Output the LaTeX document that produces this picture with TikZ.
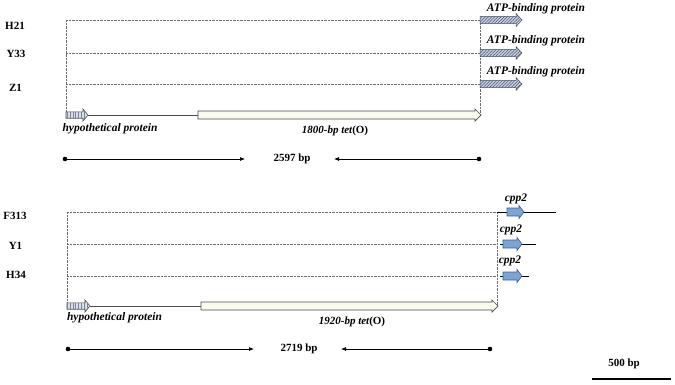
\documentclass[tikz,border=0pt]{standalone}
\usepackage{fontspec}
\setmainfont{Liberation Serif}
\usetikzlibrary{patterns,patterns.meta,arrows.meta}
\definecolor{atpfill}{HTML}{C9D1E2}
\definecolor{atphatch}{HTML}{44506A}
\definecolor{cppfill}{HTML}{7BA5D6}
\definecolor{cppline}{HTML}{3F5E8C}
\definecolor{hypfill}{HTML}{D9DEE9}
\definecolor{hypstripe}{HTML}{7A8496}
\definecolor{tetfill}{HTML}{FAFAF0}
\definecolor{dotgrey}{HTML}{6E6E6E}
\newcommand{\genearrow}[7]{\draw[#1] (#2,#5-#6) -- (#3,#5-#6) -- (#3,#5-#7) -- (#4,#5) -- (#3,#5+#7) -- (#3,#5+#6) -- (#2,#5+#6) -- cycle;}
\tikzset{
  strain/.style={font=\fontsize{11}{12}\selectfont\bfseries, anchor=center, inner sep=0pt},
  genelabel/.style={font=\fontsize{11.5}{13}\selectfont\bfseries\itshape, anchor=center, inner sep=0pt},
  plainlabel/.style={font=\fontsize{11}{12}\selectfont\bfseries, anchor=center, inner sep=0pt},
  dotline/.style={dotgrey, dash pattern=on 0.6pt off 0.8pt, line width=0.6pt},
  linkline/.style={draw=black!70, line width=0.8pt},
  flankline/.style={draw=black, line width=0.9pt},
  atparrow/.style={draw=atphatch, line width=0.5pt, fill=atpfill, postaction={pattern={Lines[angle=45,distance=2.2pt,line width=0.5pt]}, pattern color=atphatch}},
  hyparrow/.style={draw=black!70, line width=0.6pt, fill=hypfill, postaction={pattern={Lines[angle=90,distance=2.8pt,line width=0.5pt]}, pattern color=hypstripe}},
  tetarrow/.style={draw=black!70, line width=0.7pt, fill=tetfill},
  cpparrow/.style={draw=cppline, line width=0.6pt, fill=cppfill},
  distline/.style={draw=black, line width=0.7pt},
  endtip/.style={-{Latex[length=5pt,width=4pt]}},
  enddot/.style={fill=black},
}
\begin{document}
\begin{tikzpicture}[x=1pt,y=-1pt]
\useasboundingbox (0,0) rectangle (675,384);
% ================= TOP PANEL =================
\node[strain] (h21) at (15,26) {H21};
\node[strain] (y33) at (16,54) {Y33};
\node[strain] (z1) at (15.5,88) {Z1};
\coordinate (tL1) at (66,20);
\coordinate (tR1) at (480,20);
\coordinate (tL2) at (66,53);
\coordinate (tR2) at (480,53);
\coordinate (tL3) at (66,84);
\coordinate (tR3) at (480,84);
\coordinate (tLb) at (66,112);
\coordinate (tRb) at (480,115);
\draw[dotline] (tL1) -- (tR1);
\draw[dotline] (tL2) -- (tR2);
\draw[dotline] (tL3) -- (tR3);
\draw[dotline] (tL1) -- (tLb);
\draw[dotline] (tR1) -- (tRb);
% ATP-binding protein arrows
\genearrow{atparrow}{480}{516}{522}{20}{3.6}{6.5}
\genearrow{atparrow}{480}{516}{522}{53}{3.6}{6.5}
\genearrow{atparrow}{480}{516}{522}{84}{3.6}{6.5}
\node[genelabel] (atp1) at (536,9) {ATP-binding protein};
\node[genelabel] (atp2) at (536,41) {ATP-binding protein};
\node[genelabel] (atp3) at (536,72) {ATP-binding protein};
% backbone
\coordinate (thypend) at (88,115);
\coordinate (ttetstart) at (198,115);
\draw[linkline] (thypend) -- (ttetstart);
\genearrow{hyparrow}{66}{83}{88}{115}{3.2}{6}
\genearrow{tetarrow}{198}{475}{481}{115}{4}{6}
\node[genelabel] (thyp) at (110,129) {hypothetical protein};
\node[plainlabel] (ttet) at (335,131) {\itshape 1800-bp tet\upshape(O)};
% distance
\node[plainlabel] (tdist) at (292,159) {2597 bp};
\coordinate (td1) at (65,159);
\coordinate (td1e) at (245,159);
\coordinate (td2) at (479,159);
\coordinate (td2e) at (334,159);
\draw[distline,endtip] (td1) -- (td1e);
\draw[distline,endtip] (td2) -- (td2e);
\fill[enddot] (td1) circle (2.3);
\fill[enddot] (td2) circle (2.3);
% ================= BOTTOM PANEL =================
\node[strain] (f313) at (15,216) {F313};
\node[strain] (y1) at (15.5,246) {Y1};
\node[strain] (h34) at (16,275) {H34};
\coordinate (bL1) at (67,212);
\coordinate (bR1) at (497,212);
\coordinate (bL2) at (67,244);
\coordinate (bR2) at (497,244);
\coordinate (bL3) at (67,276);
\coordinate (bR3) at (497,276);
\coordinate (bLb) at (67,302);
\coordinate (bRb) at (497,306);
\draw[dotline] (bL1) -- (bR1);
\draw[dotline] (bL2) -- (bR2);
\draw[dotline] (bL3) -- (bR3);
\draw[dotline] (bL1) -- (bLb);
\draw[dotline] (bR1) -- (bRb);
% flanking lines and cpp2 arrows
\coordinate (f1end) at (556,212);
\coordinate (f2s) at (500,244);
\coordinate (f2end) at (536,244);
\coordinate (f3s) at (500,276);
\coordinate (f3end) at (529,276);
\draw[flankline] (bR1) -- (f1end);
\draw[flankline] (f2s) -- (f2end);
\draw[flankline] (f3s) -- (f3end);
\genearrow{cpparrow}{507}{519}{524}{212}{4}{6.5}
\genearrow{cpparrow}{503}{517}{522}{244}{4}{6.5}
\genearrow{cpparrow}{503}{517}{522}{276}{4}{6.5}
\node[genelabel] (cpp1) at (516,199) {cpp2};
\node[genelabel] (cpp2b) at (511,230) {cpp2};
\node[genelabel] (cpp3) at (510,261) {cpp2};
% backbone
\coordinate (bhypend) at (90,306);
\coordinate (btetstart) at (201,306);
\draw[linkline] (bhypend) -- (btetstart);
\genearrow{hyparrow}{67}{85}{90}{306}{3.2}{6}
\genearrow{tetarrow}{201}{492}{498}{306}{4}{6}
\node[genelabel] (bhyp) at (114.5,318) {hypothetical protein};
\node[plainlabel] (btet) at (352,322) {\itshape 1920-bp tet\upshape(O)};
% distance
\node[plainlabel] (bdist) at (299,349) {2719 bp};
\coordinate (bd1) at (68,349);
\coordinate (bd1e) at (254,349);
\coordinate (bd2) at (490,349);
\coordinate (bd2e) at (341,349);
\draw[distline,endtip] (bd1) -- (bd1e);
\draw[distline,endtip] (bd2) -- (bd2e);
\fill[enddot] (bd1) circle (2.3);
\fill[enddot] (bd2) circle (2.3);
% scale bar
\node[plainlabel] (scale) at (624,364) {500 bp};
\coordinate (sb1) at (592,379);
\coordinate (sb2) at (671,379);
\draw[draw=black, line width=1.2pt] (sb1) -- (sb2);
\end{tikzpicture}
\end{document}
